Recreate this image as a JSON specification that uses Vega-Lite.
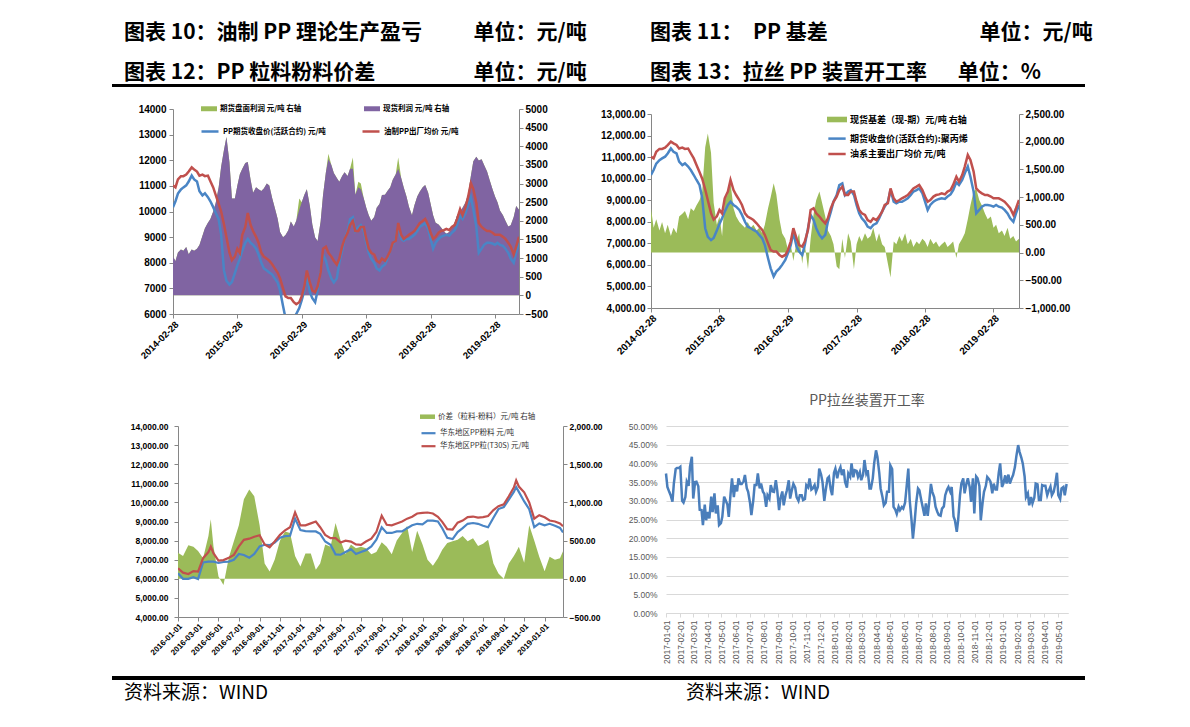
{
"$schema":"https://vega.github.io/schema/vega-lite/v6.json",
"padding":{"left":112,"top":22,"right":0,"bottom":0},
"config":{"view":{"stroke":null},"font":"Liberation Sans"},
"datasets":{
"px":[
{"d":"2014-02-28","fut":10170,"spot":11020,"basis":800,"ps":1040,"pf":1040},
{"d":"2014-03-14","fut":10400,"spot":10940,"basis":450,"ps":920,"pf":920},
{"d":"2014-03-28","fut":10700,"spot":11250,"basis":600,"ps":1150,"pf":1150},
{"d":"2014-04-14","fut":10860,"spot":11380,"basis":400,"ps":1230,"pf":1230},
{"d":"2014-04-28","fut":10940,"spot":11380,"basis":550,"ps":1200,"pf":1200},
{"d":"2014-05-14","fut":11020,"spot":11440,"basis":350,"ps":1300,"pf":1300},
{"d":"2014-05-28","fut":11170,"spot":11560,"basis":500,"ps":1100,"pf":1100},
{"d":"2014-06-14","fut":11400,"spot":11720,"basis":300,"ps":1230,"pf":1230},
{"d":"2014-06-28","fut":11250,"spot":11640,"basis":450,"ps":1200,"pf":1200},
{"d":"2014-07-14","fut":11170,"spot":11560,"basis":350,"ps":1250,"pf":1250},
{"d":"2014-07-28","fut":10790,"spot":11400,"basis":650,"ps":1350,"pf":1350},
{"d":"2014-08-14","fut":10630,"spot":11440,"basis":700,"ps":1600,"pf":1600},
{"d":"2014-08-28","fut":10710,"spot":11380,"basis":750,"ps":1800,"pf":1800},
{"d":"2014-09-14","fut":10560,"spot":11400,"basis":600,"ps":1950,"pf":1950},
{"d":"2014-09-28","fut":10400,"spot":11180,"basis":800,"ps":2050,"pf":2050},
{"d":"2014-10-14","fut":10170,"spot":10940,"basis":750,"ps":2250,"pf":2250},
{"d":"2014-10-28","fut":9950,"spot":10650,"basis":850,"ps":2480,"pf":2480},
{"d":"2014-11-14","fut":9700,"spot":10300,"basis":950,"ps":2900,"pf":2900},
{"d":"2014-11-28","fut":9100,"spot":10000,"basis":1100,"ps":3450,"pf":3450},
{"d":"2014-12-14","fut":7700,"spot":9500,"basis":1900,"ps":3900,"pf":3900},
{"d":"2014-12-28","fut":7300,"spot":9000,"basis":2150,"ps":4250,"pf":4250},
{"d":"2015-01-14","fut":7150,"spot":8400,"basis":1800,"ps":3580,"pf":3580},
{"d":"2015-01-28","fut":7250,"spot":8100,"basis":900,"ps":2600,"pf":2600},
{"d":"2015-02-14","fut":7600,"spot":8250,"basis":500,"ps":2600,"pf":2600},
{"d":"2015-02-28","fut":7900,"spot":8550,"basis":650,"ps":2950,"pf":2950},
{"d":"2015-03-14","fut":8160,"spot":8390,"basis":300,"ps":3250,"pf":3250},
{"d":"2015-03-28","fut":8470,"spot":9090,"basis":950,"ps":3400,"pf":3400},
{"d":"2015-04-14","fut":8780,"spot":9400,"basis":1050,"ps":3550,"pf":3550},
{"d":"2015-04-28","fut":8930,"spot":9940,"basis":1250,"ps":3580,"pf":3580},
{"d":"2015-05-14","fut":8780,"spot":9470,"basis":800,"ps":3100,"pf":3100},
{"d":"2015-05-28","fut":8700,"spot":9240,"basis":650,"ps":2750,"pf":2750},
{"d":"2015-06-14","fut":8550,"spot":9010,"basis":550,"ps":2900,"pf":2900},
{"d":"2015-06-28","fut":8320,"spot":8780,"basis":500,"ps":2850,"pf":2850},
{"d":"2015-07-14","fut":8000,"spot":8390,"basis":450,"ps":2800,"pf":2800},
{"d":"2015-07-28","fut":7780,"spot":8240,"basis":550,"ps":2870,"pf":2870},
{"d":"2015-08-14","fut":7700,"spot":8160,"basis":450,"ps":3000,"pf":3000},
{"d":"2015-08-28","fut":7620,"spot":8080,"basis":500,"ps":2950,"pf":2950},
{"d":"2015-09-14","fut":7540,"spot":7930,"basis":400,"ps":2600,"pf":2600},
{"d":"2015-09-28","fut":7390,"spot":7780,"basis":450,"ps":2350,"pf":2350},
{"d":"2015-10-14","fut":7230,"spot":7620,"basis":350,"ps":2060,"pf":2060},
{"d":"2015-10-28","fut":6920,"spot":7390,"basis":500,"ps":1700,"pf":1700},
{"d":"2015-11-14","fut":6310,"spot":7000,"basis":800,"ps":1560,"pf":1560},
{"d":"2015-11-28","fut":5840,"spot":6690,"basis":1000,"ps":1620,"pf":1620},
{"d":"2015-12-14","fut":5460,"spot":6620,"basis":1250,"ps":1750,"pf":1750},
{"d":"2015-12-28","fut":5690,"spot":6620,"basis":1050,"ps":1980,"pf":1980},
{"d":"2016-01-14","fut":5840,"spot":6460,"basis":600,"ps":1850,"pf":1850},
{"d":"2016-01-28","fut":6000,"spot":6380,"basis":350,"ps":2000,"pf":2000},
{"d":"2016-02-14","fut":6230,"spot":6460,"basis":250,"ps":2300,"pf":2600},
{"d":"2016-02-28","fut":6540,"spot":6690,"basis":50,"ps":2500,"pf":2500},
{"d":"2016-03-14","fut":6920,"spot":7080,"basis":150,"ps":2700,"pf":2700},
{"d":"2016-03-28","fut":7500,"spot":7700,"basis":-150,"ps":2850,"pf":2850},
{"d":"2016-04-14","fut":6850,"spot":7230,"basis":200,"ps":2400,"pf":2400},
{"d":"2016-04-28","fut":6620,"spot":6920,"basis":350,"ps":1900,"pf":1900},
{"d":"2016-05-14","fut":6460,"spot":6850,"basis":-200,"ps":1550,"pf":1550},
{"d":"2016-05-28","fut":6920,"spot":7080,"basis":150,"ps":1460,"pf":1460},
{"d":"2016-06-14","fut":7700,"spot":7620,"basis":-300,"ps":1975,"pf":1975},
{"d":"2016-06-28","fut":8320,"spot":8550,"basis":250,"ps":2700,"pf":2700},
{"d":"2016-07-14","fut":8080,"spot":8630,"basis":700,"ps":3300,"pf":3300},
{"d":"2016-07-28","fut":7700,"spot":8390,"basis":950,"ps":3650,"pf":3800},
{"d":"2016-08-14","fut":7390,"spot":8240,"basis":1100,"ps":3500,"pf":3500},
{"d":"2016-08-28","fut":7230,"spot":8080,"basis":900,"ps":3280,"pf":3280},
{"d":"2016-09-14","fut":7390,"spot":7930,"basis":650,"ps":3150,"pf":3150},
{"d":"2016-09-28","fut":8000,"spot":8160,"basis":400,"ps":3050,"pf":3050},
{"d":"2016-10-14","fut":8470,"spot":8630,"basis":300,"ps":3200,"pf":3200},
{"d":"2016-10-28","fut":8930,"spot":8930,"basis":150,"ps":3300,"pf":3300},
{"d":"2016-11-14","fut":9240,"spot":9170,"basis":-250,"ps":3200,"pf":3200},
{"d":"2016-11-28","fut":9700,"spot":9470,"basis":-300,"ps":3400,"pf":3400},
{"d":"2016-12-14","fut":9780,"spot":9630,"basis":250,"ps":3400,"pf":3700},
{"d":"2016-12-28","fut":9240,"spot":9240,"basis":-100,"ps":2700,"pf":2700},
{"d":"2017-01-14","fut":9400,"spot":9240,"basis":350,"ps":2900,"pf":3050},
{"d":"2017-01-28","fut":9470,"spot":9400,"basis":200,"ps":2850,"pf":3000},
{"d":"2017-02-14","fut":9240,"spot":9400,"basis":-300,"ps":2600,"pf":2600},
{"d":"2017-02-28","fut":8780,"spot":8930,"basis":150,"ps":2350,"pf":2350},
{"d":"2017-03-14","fut":8390,"spot":8550,"basis":300,"ps":2150,"pf":2150},
{"d":"2017-03-28","fut":8160,"spot":8390,"basis":200,"ps":2000,"pf":2000},
{"d":"2017-04-14","fut":8000,"spot":8320,"basis":350,"ps":2100,"pf":2100},
{"d":"2017-04-28","fut":7780,"spot":8080,"basis":250,"ps":2350,"pf":2350},
{"d":"2017-05-14","fut":7700,"spot":8000,"basis":300,"ps":2450,"pf":2450},
{"d":"2017-05-28","fut":7850,"spot":8160,"basis":450,"ps":2690,"pf":2690},
{"d":"2017-06-14","fut":7930,"spot":8080,"basis":200,"ps":2700,"pf":2700},
{"d":"2017-06-28","fut":8160,"spot":8240,"basis":350,"ps":2800,"pf":2800},
{"d":"2017-07-14","fut":8470,"spot":8470,"basis":150,"ps":2900,"pf":2900},
{"d":"2017-07-28","fut":8700,"spot":8780,"basis":100,"ps":3100,"pf":3100},
{"d":"2017-08-14","fut":8930,"spot":8860,"basis":-200,"ps":3250,"pf":3250},
{"d":"2017-08-28","fut":9480,"spot":9550,"basis":-450,"ps":3400,"pf":3700},
{"d":"2017-09-14","fut":8930,"spot":9090,"basis":200,"ps":3150,"pf":3150},
{"d":"2017-09-28","fut":8860,"spot":8930,"basis":150,"ps":2900,"pf":2900},
{"d":"2017-10-14","fut":8930,"spot":9010,"basis":300,"ps":2650,"pf":2650},
{"d":"2017-10-28","fut":8930,"spot":9090,"basis":200,"ps":2380,"pf":2380},
{"d":"2017-11-14","fut":9010,"spot":9170,"basis":350,"ps":2150,"pf":2150},
{"d":"2017-11-28","fut":9090,"spot":9240,"basis":150,"ps":2420,"pf":2420},
{"d":"2017-12-14","fut":9240,"spot":9400,"basis":250,"ps":2650,"pf":2650},
{"d":"2017-12-28","fut":9400,"spot":9550,"basis":100,"ps":2780,"pf":2780},
{"d":"2018-01-14","fut":9470,"spot":9630,"basis":200,"ps":2900,"pf":2900},
{"d":"2018-01-28","fut":9550,"spot":9710,"basis":150,"ps":2960,"pf":2960},
{"d":"2018-02-14","fut":9320,"spot":9470,"basis":250,"ps":2750,"pf":2750},
{"d":"2018-02-28","fut":8930,"spot":9170,"basis":200,"ps":2450,"pf":2450},
{"d":"2018-03-14","fut":8550,"spot":8930,"basis":100,"ps":2150,"pf":2150},
{"d":"2018-03-28","fut":8780,"spot":9010,"basis":250,"ps":1950,"pf":1950},
{"d":"2018-04-14","fut":8930,"spot":9170,"basis":150,"ps":1900,"pf":1900},
{"d":"2018-04-28","fut":9010,"spot":9240,"basis":200,"ps":1820,"pf":1820},
{"d":"2018-05-14","fut":9060,"spot":9270,"basis":100,"ps":1720,"pf":1720},
{"d":"2018-05-28","fut":9090,"spot":9320,"basis":150,"ps":1650,"pf":1650},
{"d":"2018-06-14","fut":9060,"spot":9270,"basis":200,"ps":1700,"pf":1700},
{"d":"2018-06-28","fut":9170,"spot":9400,"basis":100,"ps":1800,"pf":1800},
{"d":"2018-07-14","fut":9270,"spot":9470,"basis":150,"ps":1950,"pf":1950},
{"d":"2018-07-28","fut":9470,"spot":9710,"basis":200,"ps":2150,"pf":2150},
{"d":"2018-08-14","fut":9830,"spot":10090,"basis":-100,"ps":2250,"pf":2250},
{"d":"2018-08-28","fut":9710,"spot":9860,"basis":150,"ps":2350,"pf":2350},
{"d":"2018-09-14","fut":9940,"spot":10170,"basis":250,"ps":2500,"pf":2500},
{"d":"2018-09-28","fut":10250,"spot":10560,"basis":350,"ps":2700,"pf":2700},
{"d":"2018-10-14","fut":10560,"spot":11100,"basis":600,"ps":3200,"pf":3200},
{"d":"2018-10-28","fut":10090,"spot":10870,"basis":850,"ps":3600,"pf":3600},
{"d":"2018-11-14","fut":9400,"spot":10330,"basis":1100,"ps":3720,"pf":3720},
{"d":"2018-11-28","fut":8390,"spot":9550,"basis":1150,"ps":3620,"pf":3620},
{"d":"2018-12-14","fut":8550,"spot":9400,"basis":950,"ps":3650,"pf":3650},
{"d":"2018-12-28","fut":8700,"spot":9320,"basis":850,"ps":3500,"pf":3500},
{"d":"2019-01-14","fut":8780,"spot":9240,"basis":700,"ps":3320,"pf":3320},
{"d":"2019-01-28","fut":8780,"spot":9240,"basis":600,"ps":3100,"pf":3100},
{"d":"2019-02-14","fut":8750,"spot":9170,"basis":650,"ps":2850,"pf":2850},
{"d":"2019-02-28","fut":8700,"spot":9090,"basis":450,"ps":2650,"pf":2650},
{"d":"2019-03-14","fut":8780,"spot":9090,"basis":500,"ps":2500,"pf":2500},
{"d":"2019-03-28","fut":8700,"spot":9090,"basis":350,"ps":2280,"pf":2280},
{"d":"2019-04-14","fut":8660,"spot":9010,"basis":400,"ps":2150,"pf":2150},
{"d":"2019-04-28","fut":8550,"spot":8930,"basis":300,"ps":2000,"pf":2000},
{"d":"2019-05-14","fut":8390,"spot":8780,"basis":450,"ps":1850,"pf":1850},
{"d":"2019-05-28","fut":8160,"spot":8630,"basis":250,"ps":1880,"pf":1880},
{"d":"2019-06-14","fut":8000,"spot":8320,"basis":300,"ps":2100,"pf":2100},
{"d":"2019-06-28","fut":8390,"spot":8630,"basis":200,"ps":2400,"pf":2400},
{"d":"2019-07-14","fut":8780,"spot":9010,"basis":250,"ps":2300,"pf":2300}
],
"c3":[
{"d":"2016-01-01","pw":6290,"gr":6550,"df":340},
{"d":"2016-01-16","pw":6000,"gr":6320,"df":300},
{"d":"2016-02-01","pw":6000,"gr":6250,"df":440},
{"d":"2016-02-16","pw":6080,"gr":6400,"df":420},
{"d":"2016-03-01","pw":5990,"gr":6380,"df":365},
{"d":"2016-03-16","pw":6860,"gr":7080,"df":270},
{"d":"2016-04-01","pw":6900,"gr":7400,"df":560},
{"d":"2016-04-08","pw":6900,"gr":7690,"df":780},
{"d":"2016-04-16","pw":6900,"gr":7340,"df":425},
{"d":"2016-05-01","pw":6830,"gr":6950,"df":30},
{"d":"2016-05-16","pw":6880,"gr":6980,"df":-80},
{"d":"2016-06-01","pw":6900,"gr":7100,"df":280},
{"d":"2016-06-16","pw":7000,"gr":7250,"df":490},
{"d":"2016-07-01","pw":7300,"gr":7700,"df":700},
{"d":"2016-07-16","pw":7250,"gr":8040,"df":1040},
{"d":"2016-08-01","pw":7100,"gr":8100,"df":1170},
{"d":"2016-08-16","pw":7300,"gr":8200,"df":1080},
{"d":"2016-09-01","pw":7700,"gr":8280,"df":700},
{"d":"2016-09-16","pw":7780,"gr":7800,"df":200},
{"d":"2016-10-01","pw":7760,"gr":7650,"df":96},
{"d":"2016-10-16","pw":7900,"gr":7950,"df":250},
{"d":"2016-11-01","pw":8150,"gr":8300,"df":500},
{"d":"2016-11-16","pw":8230,"gr":8540,"df":620},
{"d":"2016-12-01","pw":8250,"gr":8700,"df":600},
{"d":"2016-12-16","pw":9150,"gr":9480,"df":300},
{"d":"2017-01-01","pw":8550,"gr":8800,"df":160},
{"d":"2017-01-16","pw":8500,"gr":8800,"df":330},
{"d":"2017-02-01","pw":8480,"gr":8900,"df":330},
{"d":"2017-02-16","pw":8480,"gr":9000,"df":120},
{"d":"2017-03-01","pw":8350,"gr":8700,"df":200},
{"d":"2017-03-16","pw":7950,"gr":8300,"df":450},
{"d":"2017-04-01","pw":7780,"gr":8130,"df":420},
{"d":"2017-04-16","pw":7280,"gr":8130,"df":730},
{"d":"2017-05-01","pw":7260,"gr":7900,"df":500},
{"d":"2017-05-16","pw":7400,"gr":8000,"df":320},
{"d":"2017-06-01","pw":7550,"gr":7950,"df":450},
{"d":"2017-06-16","pw":7300,"gr":7800,"df":400},
{"d":"2017-07-01","pw":7400,"gr":7780,"df":420},
{"d":"2017-07-16","pw":7500,"gr":7950,"df":400},
{"d":"2017-08-01","pw":7700,"gr":8100,"df":320},
{"d":"2017-08-16","pw":8050,"gr":8450,"df":350},
{"d":"2017-09-01","pw":8700,"gr":9300,"df":480},
{"d":"2017-09-16","pw":8400,"gr":8830,"df":420},
{"d":"2017-10-01","pw":8400,"gr":8800,"df":320},
{"d":"2017-10-16","pw":8480,"gr":8900,"df":500},
{"d":"2017-11-01","pw":8480,"gr":9000,"df":600},
{"d":"2017-11-16","pw":8650,"gr":9150,"df":690},
{"d":"2017-12-01","pw":8800,"gr":9250,"df":350},
{"d":"2017-12-16","pw":8880,"gr":9420,"df":630},
{"d":"2018-01-01","pw":8850,"gr":9450,"df":450},
{"d":"2018-01-16","pw":9050,"gr":9470,"df":250},
{"d":"2018-02-01","pw":9050,"gr":9420,"df":170},
{"d":"2018-02-16","pw":9000,"gr":9250,"df":270},
{"d":"2018-03-01","pw":8650,"gr":8980,"df":380},
{"d":"2018-03-16","pw":8150,"gr":8600,"df":470},
{"d":"2018-04-01","pw":8080,"gr":8580,"df":490},
{"d":"2018-04-16","pw":8450,"gr":8940,"df":510},
{"d":"2018-05-01","pw":8650,"gr":9050,"df":560},
{"d":"2018-05-16","pw":8880,"gr":9230,"df":490},
{"d":"2018-06-01","pw":8920,"gr":9260,"df":530},
{"d":"2018-06-16","pw":8880,"gr":9200,"df":430},
{"d":"2018-07-01","pw":8780,"gr":9230,"df":460},
{"d":"2018-07-16","pw":8700,"gr":9290,"df":510},
{"d":"2018-08-01","pw":9200,"gr":9600,"df":200},
{"d":"2018-08-16","pw":9650,"gr":9800,"df":70},
{"d":"2018-09-01","pw":9760,"gr":9900,"df":0},
{"d":"2018-09-16","pw":10150,"gr":10320,"df":200},
{"d":"2018-10-01","pw":10550,"gr":10780,"df":300},
{"d":"2018-10-08","pw":10800,"gr":11150,"df":350},
{"d":"2018-10-16","pw":10550,"gr":10830,"df":420},
{"d":"2018-11-01","pw":10050,"gr":10530,"df":210},
{"d":"2018-11-16","pw":9640,"gr":10000,"df":700},
{"d":"2018-12-01","pw":8700,"gr":9150,"df":500},
{"d":"2018-12-16","pw":8900,"gr":9330,"df":290},
{"d":"2019-01-01","pw":8800,"gr":9220,"df":100},
{"d":"2019-01-16","pw":8880,"gr":9050,"df":290},
{"d":"2019-02-01","pw":8780,"gr":9000,"df":250},
{"d":"2019-02-16","pw":8660,"gr":8900,"df":270},
{"d":"2019-02-25","pw":8430,"gr":8750,"df":360}
],
"c4":[
{"d":"2017-01-01","v":37.3},{"d":"2017-01-08","v":32.4},{"d":"2017-01-15","v":29.8},{"d":"2017-01-22","v":38.5},{"d":"2017-01-29","v":38.8},
{"d":"2017-02-05","v":30},{"d":"2017-02-12","v":31},{"d":"2017-02-19","v":34},{"d":"2017-02-26","v":41.8},{"d":"2017-03-05","v":35},
{"d":"2017-03-12","v":33.9},{"d":"2017-03-19","v":27.5},{"d":"2017-03-26","v":29},{"d":"2017-04-02","v":27},{"d":"2017-04-09","v":31.1},
{"d":"2017-04-16","v":32},{"d":"2017-04-23","v":28.8},{"d":"2017-04-30","v":24},{"d":"2017-05-07","v":31.1},{"d":"2017-05-14","v":29},
{"d":"2017-05-21","v":32},{"d":"2017-05-28","v":31},{"d":"2017-06-04","v":32.5},{"d":"2017-06-11","v":34.5},{"d":"2017-06-18","v":35.2},
{"d":"2017-06-25","v":33.4},{"d":"2017-07-02","v":29.5},{"d":"2017-07-09","v":30},{"d":"2017-07-16","v":34.2},{"d":"2017-07-23","v":33.3},
{"d":"2017-07-30","v":32.4},{"d":"2017-08-06","v":28.4},{"d":"2017-08-13","v":30.6},{"d":"2017-08-20","v":32.5},{"d":"2017-08-27","v":35.5},
{"d":"2017-09-03","v":27.5},{"d":"2017-09-10","v":32.5},{"d":"2017-09-17","v":31.5},{"d":"2017-09-24","v":35.5},{"d":"2017-10-01","v":33},
{"d":"2017-10-08","v":33.5},{"d":"2017-10-15","v":30},{"d":"2017-10-22","v":31.5},{"d":"2017-10-29","v":30.5},{"d":"2017-11-05","v":33.6},
{"d":"2017-11-12","v":33},{"d":"2017-11-19","v":34.2},{"d":"2017-11-26","v":33.7},{"d":"2017-12-03","v":37},{"d":"2017-12-10","v":30},
{"d":"2017-12-17","v":36},{"d":"2017-12-24","v":33},{"d":"2017-12-31","v":37.5},{"d":"2018-01-07","v":36},{"d":"2018-01-14","v":39},
{"d":"2018-01-21","v":38.4},{"d":"2018-01-28","v":33.5},{"d":"2018-02-04","v":36.4},{"d":"2018-02-11","v":36.3},{"d":"2018-02-18","v":38},
{"d":"2018-02-25","v":37.7},{"d":"2018-03-04","v":37},{"d":"2018-03-11","v":37.3},{"d":"2018-03-18","v":33.3},{"d":"2018-03-25","v":36},
{"d":"2018-04-01","v":43.5},{"d":"2018-04-08","v":37.5},{"d":"2018-04-15","v":31},{"d":"2018-04-22","v":29.5},{"d":"2018-04-29","v":32.4},
{"d":"2018-05-06","v":38.5},{"d":"2018-05-13","v":27.6},{"d":"2018-05-20","v":28.4},{"d":"2018-05-27","v":28.3},{"d":"2018-06-03","v":29.5},
{"d":"2018-06-10","v":38.6},{"d":"2018-06-17","v":24.8},{"d":"2018-06-24","v":24.8},{"d":"2018-07-01","v":33.3},{"d":"2018-07-08","v":30.2},
{"d":"2018-07-15","v":26},{"d":"2018-07-22","v":26},{"d":"2018-07-29","v":34.5},{"d":"2018-08-05","v":31},{"d":"2018-08-12","v":27},
{"d":"2018-08-19","v":26},{"d":"2018-08-26","v":28.5},{"d":"2018-09-02","v":33},{"d":"2018-09-09","v":32.4},{"d":"2018-09-16","v":25.8},
{"d":"2018-09-23","v":21.7},{"d":"2018-09-30","v":31.5},{"d":"2018-10-07","v":36},{"d":"2018-10-14","v":34.6},{"d":"2018-10-21","v":33.7},
{"d":"2018-10-28","v":36},{"d":"2018-11-04","v":36.5},{"d":"2018-11-11","v":34},{"d":"2018-11-18","v":29.5},{"d":"2018-11-25","v":34},
{"d":"2018-12-02","v":35.8},{"d":"2018-12-09","v":32},{"d":"2018-12-16","v":33},{"d":"2018-12-23","v":37.5},{"d":"2018-12-30","v":33.7},
{"d":"2019-01-06","v":36.8},{"d":"2019-01-13","v":37},{"d":"2019-01-20","v":36},{"d":"2019-01-27","v":39},{"d":"2019-02-03","v":44.9},
{"d":"2019-02-10","v":41.5},{"d":"2019-02-17","v":36.5},{"d":"2019-02-24","v":32},{"d":"2019-03-03","v":31},{"d":"2019-03-10","v":30.8},
{"d":"2019-03-17","v":34.4},{"d":"2019-03-24","v":30.2},{"d":"2019-03-31","v":34},{"d":"2019-04-07","v":31.5},{"d":"2019-04-14","v":33.8},
{"d":"2019-04-21","v":32.4},{"d":"2019-04-28","v":37.5},{"d":"2019-05-05","v":30.5},{"d":"2019-05-12","v":33.7},{"d":"2019-05-19","v":34.5},
{"d":"2017-01-04","v":33.7},{"d":"2017-01-11","v":31.5},{"d":"2017-01-18","v":34.6},{"d":"2017-01-25","v":38.8},{"d":"2017-02-01","v":39.1},
{"d":"2017-02-08","v":29.5},{"d":"2017-02-15","v":35.1},{"d":"2017-02-22","v":39.1},{"d":"2017-03-01","v":30.6},{"d":"2017-03-08","v":35.1},
{"d":"2017-03-15","v":27.6},{"d":"2017-03-22","v":23.5},{"d":"2017-03-29","v":24.8},{"d":"2017-04-05","v":25.3},{"d":"2017-04-12","v":27},
{"d":"2017-04-19","v":26.6},{"d":"2017-04-26","v":23.5},{"d":"2017-05-03","v":25.7},{"d":"2017-05-10","v":30.2},{"d":"2017-05-17","v":25.7},
{"d":"2017-05-24","v":36},{"d":"2017-05-31","v":34.2},{"d":"2017-06-07","v":36},{"d":"2017-06-14","v":34.5},{"d":"2017-06-21","v":36.9},
{"d":"2017-06-28","v":32.4},{"d":"2017-07-05","v":26.2},{"d":"2017-07-12","v":34.2},{"d":"2017-07-19","v":37.3},{"d":"2017-07-26","v":34.6},
{"d":"2017-08-02","v":31.9},{"d":"2017-08-09","v":31.5},{"d":"2017-08-16","v":34.2},{"d":"2017-08-23","v":32.4},{"d":"2017-08-30","v":32.8},
{"d":"2017-09-06","v":30.6},{"d":"2017-09-13","v":28.8},{"d":"2017-09-20","v":32.8},{"d":"2017-09-27","v":30.6},{"d":"2017-10-04","v":34.5},
{"d":"2017-10-11","v":31},{"d":"2017-10-18","v":31.5},{"d":"2017-10-25","v":30.2},{"d":"2017-11-01","v":34.2},{"d":"2017-11-08","v":36},
{"d":"2017-11-15","v":33.3},{"d":"2017-11-22","v":32.4},{"d":"2017-11-29","v":38.6},{"d":"2017-12-06","v":35.1},{"d":"2017-12-13","v":32.8},
{"d":"2017-12-20","v":36.4},{"d":"2017-12-27","v":31.5},{"d":"2018-01-03","v":38.6},{"d":"2018-01-10","v":37.8},{"d":"2018-01-17","v":36.9},
{"d":"2018-01-24","v":35},{"d":"2018-01-31","v":37.3},{"d":"2018-02-07","v":40},{"d":"2018-02-14","v":38.2},{"d":"2018-02-21","v":36.4},
{"d":"2018-02-28","v":35.5},{"d":"2018-03-07","v":40.9},{"d":"2018-03-14","v":38.2},{"d":"2018-03-21","v":33.3},{"d":"2018-03-28","v":40},
{"d":"2018-04-04","v":41.8},{"d":"2018-04-11","v":33.3},{"d":"2018-04-18","v":28.8},{"d":"2018-04-25","v":32.4},{"d":"2018-05-02","v":39.5},
{"d":"2018-05-09","v":28.4},{"d":"2018-05-16","v":26.5},{"d":"2018-05-23","v":27.5},{"d":"2018-05-30","v":27.9},{"d":"2018-06-06","v":33.3},
{"d":"2018-06-13","v":30.2},{"d":"2018-06-20","v":19.9},{"d":"2018-06-27","v":29.3},{"d":"2018-07-04","v":32.8},{"d":"2018-07-11","v":28.4},
{"d":"2018-07-18","v":29.3},{"d":"2018-07-25","v":29.3},{"d":"2018-08-01","v":32.4},{"d":"2018-08-08","v":28.4},{"d":"2018-08-15","v":26.2},
{"d":"2018-08-22","v":27.9},{"d":"2018-08-29","v":31.5},{"d":"2018-09-05","v":33.7},{"d":"2018-09-12","v":33.7},{"d":"2018-09-19","v":24.8},
{"d":"2018-09-26","v":24.8},{"d":"2018-10-03","v":34.6},{"d":"2018-10-10","v":32},{"d":"2018-10-17","v":36},{"d":"2018-10-24","v":29.7},
{"d":"2018-10-31","v":26.6},{"d":"2018-11-07","v":36},{"d":"2018-11-14","v":24.8},{"d":"2018-11-21","v":32.4},{"d":"2018-11-28","v":36.4},
{"d":"2018-12-05","v":35.1},{"d":"2018-12-12","v":34.6},{"d":"2018-12-19","v":33},{"d":"2018-12-26","v":40},{"d":"2019-01-02","v":34.6},
{"d":"2019-01-09","v":34.6},{"d":"2019-01-16","v":34.6},{"d":"2019-01-23","v":36.9},{"d":"2019-01-30","v":41.8},{"d":"2019-02-06","v":43.1},
{"d":"2019-02-13","v":40},{"d":"2019-02-20","v":31},{"d":"2019-02-27","v":28.8},{"d":"2019-03-06","v":29.3},{"d":"2019-03-13","v":34.6},
{"d":"2019-03-20","v":30.2},{"d":"2019-03-27","v":34.2},{"d":"2019-04-03","v":34},{"d":"2019-04-10","v":32.6},{"d":"2019-04-17","v":31.5},
{"d":"2019-04-24","v":34.2},{"d":"2019-05-01","v":31.5},{"d":"2019-05-08","v":33.3},{"d":"2019-05-15","v":31.5}
]
},
"vconcat":[
{"width":550,"height":62,
 "data":{"values":[
  {"r":1,"c":"L","t":"图表 10：油制 PP 理论生产盈亏\u3000\u3000\u00a0\u00a0单位：元/吨"},
  {"r":1,"c":"R","t":"图表 11：\u3000PP 基差\u3000\u3000\u3000\u3000\u3000\u3000\u3000\u00a0单位：元/吨"},
  {"r":2,"c":"L","t":"图表 12：PP 粒料粉料价差\u3000\u3000\u3000\u3000\u00a0\u00a0\u00a0单位：元/吨"},
  {"r":2,"c":"R","t":"\u00a0图表 13：拉丝 PP 装置开工率\u3000\u00a0\u00a0单位：%"}]},
 "mark":{"type":"text","align":"left","baseline":"middle","font":"Noto Sans CJK SC","fontSize":21,"fontWeight":"bold","color":"#000"},
 "encoding":{
  "x":{"field":"c","type":"nominal","scale":{"type":"point","domain":["L","R"],"padding":0.0228},"axis":null},
  "y":{"field":"r","type":"ordinal","scale":{"type":"point","padding":0.275},"axis":null},
  "text":{"field":"t"}}},
{"width":973,"height":3,"data":{"values":[]},"mark":"text","encoding":{},"view":{"fill":"#000","stroke":null}},
{"width":973,"height":22,"data":{"values":[]},"mark":"text","encoding":{}},
{"hconcat":[
 {"width":61,"height":1,"data":{"values":[]},"mark":"text","encoding":{}},
 {"width":346,"height":205,
  "data":{"name":"px"},
  "encoding":{"x":{"field":"d","type":"temporal",
    "scale":{"type":"utc","domain":[{"year":2014,"month":2,"date":28,"utc":true},{"year":2019,"month":7,"date":14,"utc":true}]},
    "axis":{"values":[{"year":2014,"month":2,"date":28,"utc":true},{"year":2015,"month":2,"date":28,"utc":true},{"year":2016,"month":2,"date":29,"utc":true},{"year":2017,"month":2,"date":28,"utc":true},{"year":2018,"month":2,"date":28,"utc":true},{"year":2019,"month":2,"date":28,"utc":true}],
     "format":"%Y-%m-%d","labelAngle":-45,"labelAlign":"right","labelBaseline":"top","labelFont":"Liberation Sans","labelFontWeight":"bold","labelFontSize":9.5,"labelColor":"#000","domainColor":"#868686","tickColor":"#868686","tickSize":4,"labelOverlap":false,"labelFlush":false,"labelPadding":1,"title":null,"grid":false}}},
  "layer":[
   {"layer":[
     {"mark":{"type":"area","opacity":1,"clip":true},
      "encoding":{"y":{"field":"pf","type":"quantitative","stack":null,"scale":{"domain":[-500,5000],"nice":false},
        "axis":{"orient":"right","values":[-500,0,500,1000,1500,2000,2500,3000,3500,4000,4500,5000],"format":"d","labelOverlap":false,"labelFont":"Liberation Sans","labelFontWeight":"bold","labelFontSize":10,"labelColor":"#000","domainColor":"#868686","tickColor":"#868686","tickSize":4,"labelPadding":2,"title":null,"grid":false}},
       "fill":{"datum":"期货盘面利润 元/吨 右轴","type":"nominal","scale":{"domain":["期货盘面利润 元/吨 右轴","现货利润 元/吨 右轴"],"range":["#9BBB59","#8064A2"]},
        "legend":{"title":null,"orient":"none","legendX":28,"legendY":-8.5,"direction":"horizontal","padding":0,"symbolType":"M-1,-0.31H1V0.31H-1Z","symbolSize":256,"symbolStrokeWidth":0,"labelFont":"Noto Sans CJK SC","labelFontSize":7.5,"labelFontWeight":"bold","labelColor":"#000","labelOffset":3,"columnPadding":62}}}},
     {"mark":{"type":"area","opacity":1,"clip":true},
      "encoding":{"y":{"field":"ps","type":"quantitative","stack":null,"scale":{"domain":[-500,5000],"nice":false},
        "axis":{"orient":"right","values":[-500,0,500,1000,1500,2000,2500,3000,3500,4000,4500,5000],"format":"d","labelOverlap":false,"labelFont":"Liberation Sans","labelFontWeight":"bold","labelFontSize":10,"labelColor":"#000","domainColor":"#868686","tickColor":"#868686","tickSize":4,"labelPadding":2,"title":null,"grid":false}},
       "fill":{"datum":"现货利润 元/吨 右轴","type":"nominal"}}}
   ]},
   {"layer":[
     {"mark":{"type":"line","clip":true,"strokeWidth":2.5},
      "encoding":{"y":{"field":"fut","type":"quantitative","scale":{"domain":[6000,14000],"nice":false},
        "axis":{"orient":"left","values":[6000,7000,8000,9000,10000,11000,12000,13000,14000],"format":"d","labelOverlap":false,"labelFont":"Liberation Sans","labelFontWeight":"bold","labelFontSize":10,"labelColor":"#000","domainColor":"#868686","tickColor":"#868686","tickSize":4,"labelPadding":3,"title":null,"grid":false}},
       "stroke":{"datum":"PP期货收盘价(活跃合约) 元/吨","type":"nominal","scale":{"domain":["PP期货收盘价(活跃合约) 元/吨","油制PP出厂均价 元/吨"],"range":["#4A85C5","#C0504D"]},
        "legend":{"title":null,"orient":"none","legendX":27,"legendY":12.5,"direction":"horizontal","padding":0,"symbolType":"stroke","symbolSize":289,"symbolStrokeWidth":2.5,"labelFont":"Noto Sans CJK SC","labelFontSize":7.5,"labelFontWeight":"bold","labelColor":"#000","labelOffset":3,"columnPadding":31}}}},
     {"mark":{"type":"line","clip":true,"strokeWidth":2.5},
      "encoding":{"y":{"field":"spot","type":"quantitative","scale":{"domain":[6000,14000],"nice":false},
        "axis":{"orient":"left","values":[6000,7000,8000,9000,10000,11000,12000,13000,14000],"format":"d","labelOverlap":false,"labelFont":"Liberation Sans","labelFontWeight":"bold","labelFontSize":10,"labelColor":"#000","domainColor":"#868686","tickColor":"#868686","tickSize":4,"labelPadding":3,"title":null,"grid":false}},
       "stroke":{"datum":"油制PP出厂均价 元/吨","type":"nominal"}}}
   ]}
  ],
  "resolve":{"scale":{"y":"independent"}}},
 {"width":132,"height":1,"data":{"values":[]},"mark":"text","encoding":{}},
 {"vconcat":[
  {"width":1,"height":5,"data":{"values":[]},"mark":"text","encoding":{}},
  {"width":368,"height":194,
   "data":{"name":"px"},
   "encoding":{"x":{"field":"d","type":"temporal",
     "scale":{"type":"utc","domain":[{"year":2014,"month":2,"date":28,"utc":true},{"year":2019,"month":7,"date":14,"utc":true}]},
     "axis":{"values":[{"year":2014,"month":2,"date":28,"utc":true},{"year":2015,"month":2,"date":28,"utc":true},{"year":2016,"month":2,"date":29,"utc":true},{"year":2017,"month":2,"date":28,"utc":true},{"year":2018,"month":2,"date":28,"utc":true},{"year":2019,"month":2,"date":28,"utc":true}],
      "format":"%Y-%m-%d","labelAngle":-45,"labelAlign":"right","labelBaseline":"top","labelFont":"Liberation Sans","labelFontWeight":"bold","labelFontSize":10,"labelColor":"#000","domainColor":"#868686","tickColor":"#868686","tickSize":4,"labelOverlap":false,"labelFlush":false,"labelPadding":1,"title":null,"grid":false}}},
   "layer":[
    {"mark":{"type":"area","opacity":1,"clip":true},
     "encoding":{"y":{"field":"basis","type":"quantitative","stack":null,"scale":{"domain":[-1000,2500],"nice":false},
       "axis":{"orient":"right","values":[-1000,-500,0,500,1000,1500,2000,2500],"format":",.2f","labelOverlap":false,"labelFont":"Liberation Sans","labelFontWeight":"bold","labelFontSize":10,"labelColor":"#000","domainColor":"#868686","tickColor":"#868686","tickSize":4,"labelPadding":2,"title":null,"grid":false}},
      "fill":{"datum":"现货基差（现-期）元/吨 右轴","type":"nominal","scale":{"domain":["现货基差（现-期）元/吨 右轴"],"range":["#9BBB59"]},
       "legend":{"title":null,"orient":"none","legendX":176,"legendY":-4.5,"direction":"vertical","padding":0,"symbolType":"M-1,-0.28H1V0.28H-1Z","symbolSize":400,"symbolStrokeWidth":0,"labelFont":"Noto Sans CJK SC","labelFontSize":9,"labelFontWeight":"bold","labelColor":"#000","labelOffset":3}}}},
    {"layer":[
      {"mark":{"type":"line","clip":true,"strokeWidth":2.5},
       "encoding":{"y":{"field":"fut","type":"quantitative","scale":{"domain":[4000,13000],"nice":false},
         "axis":{"orient":"left","values":[4000,5000,6000,7000,8000,9000,10000,11000,12000,13000],"format":",.2f","labelOverlap":false,"labelFont":"Liberation Sans","labelFontWeight":"bold","labelFontSize":10,"labelColor":"#000","domainColor":"#868686","tickColor":"#868686","tickSize":4,"labelPadding":2,"title":null,"grid":false}},
        "stroke":{"datum":"期货收盘价(活跃合约):聚丙烯","type":"nominal","scale":{"domain":["期货收盘价(活跃合约):聚丙烯","油系主要出厂均价 元/吨"],"range":["#4A85C5","#C0504D"]},
         "legend":{"title":null,"orient":"none","legendX":176,"legendY":14.6,"direction":"vertical","padding":0,"rowPadding":0.4,"symbolType":"stroke","symbolSize":300,"symbolStrokeWidth":2.5,"labelFont":"Noto Sans CJK SC","labelFontSize":9,"labelFontWeight":"bold","labelColor":"#000","labelOffset":3}}}},
      {"mark":{"type":"line","clip":true,"strokeWidth":2.5},
       "encoding":{"y":{"field":"spot","type":"quantitative","scale":{"domain":[4000,13000],"nice":false},
         "axis":{"orient":"left","values":[4000,5000,6000,7000,8000,9000,10000,11000,12000,13000],"format":",.2f","labelOverlap":false,"labelFont":"Liberation Sans","labelFontWeight":"bold","labelFontSize":10,"labelColor":"#000","domainColor":"#868686","tickColor":"#868686","tickSize":4,"labelPadding":2,"title":null,"grid":false}},
        "stroke":{"datum":"油系主要出厂均价 元/吨","type":"nominal"}}}
    ]}
   ],
   "resolve":{"scale":{"y":"independent"}}}
 ],"spacing":0,"bounds":"flush","resolve":{"scale":{"fill":"independent","stroke":"independent"},"legend":{"fill":"independent","stroke":"independent"}}}
],"spacing":0,"bounds":"flush","resolve":{"scale":{"fill":"independent","stroke":"independent"},"legend":{"fill":"independent","stroke":"independent"}}},
{"width":973,"height":317,"data":{"values":[]},"mark":"text","encoding":{}},
{"hconcat":[
 {"width":66,"height":1,"data":{"values":[]},"mark":"text","encoding":{}},
 {"width":385,"height":191,
  "data":{"name":"c3"},
  "encoding":{"x":{"field":"d","type":"temporal",
    "scale":{"type":"utc","domain":[{"year":2016,"month":1,"date":1,"utc":true},{"year":2019,"month":2,"date":25,"utc":true}]},
    "axis":{"values":[{"year":2016,"month":1,"date":1,"utc":true},{"year":2016,"month":3,"date":1,"utc":true},{"year":2016,"month":5,"date":1,"utc":true},{"year":2016,"month":7,"date":1,"utc":true},{"year":2016,"month":9,"date":1,"utc":true},{"year":2016,"month":11,"date":1,"utc":true},{"year":2017,"month":1,"date":1,"utc":true},{"year":2017,"month":3,"date":1,"utc":true},{"year":2017,"month":5,"date":1,"utc":true},{"year":2017,"month":7,"date":1,"utc":true},{"year":2017,"month":9,"date":1,"utc":true},{"year":2017,"month":11,"date":1,"utc":true},{"year":2018,"month":1,"date":1,"utc":true},{"year":2018,"month":3,"date":1,"utc":true},{"year":2018,"month":5,"date":1,"utc":true},{"year":2018,"month":7,"date":1,"utc":true},{"year":2018,"month":9,"date":1,"utc":true},{"year":2018,"month":11,"date":1,"utc":true},{"year":2019,"month":1,"date":1,"utc":true}],
     "format":"%Y-%m-%d","labelAngle":-45,"labelAlign":"right","labelBaseline":"top","labelFont":"Liberation Sans","labelFontWeight":"bold","labelFontSize":8,"labelColor":"#000","domainColor":"#868686","tickColor":"#868686","tickSize":4,"labelOverlap":false,"labelFlush":false,"labelPadding":1,"title":null,"grid":false}}},
  "layer":[
   {"mark":{"type":"area","opacity":1,"clip":true},
    "encoding":{"y":{"field":"df","type":"quantitative","stack":null,"scale":{"domain":[-500,2000],"nice":false},
      "axis":{"orient":"right","values":[-500,0,500,1000,1500,2000],"format":",.2f","labelOverlap":false,"labelFont":"Liberation Sans","labelFontWeight":"bold","labelFontSize":8.5,"labelColor":"#000","domainColor":"#868686","tickColor":"#868686","tickSize":4,"labelPadding":2,"title":null,"grid":false}},
     "fill":{"datum":"价差（粒料-粉料）元/吨 右轴","type":"nominal","scale":{"domain":["价差（粒料-粉料）元/吨 右轴"],"range":["#9BBB59"]},
      "legend":{"title":null,"orient":"none","legendX":242,"legendY":-16.8,"direction":"vertical","padding":0,"symbolType":"M-1,-0.3H1V0.3H-1Z","symbolSize":225,"symbolStrokeWidth":0,"labelFont":"Noto Sans CJK SC","labelFontSize":7.5,"labelColor":"#333","labelOffset":3}}}},
   {"layer":[
     {"mark":{"type":"line","clip":true,"strokeWidth":2.2},
      "encoding":{"y":{"field":"pw","type":"quantitative","scale":{"domain":[4000,14000],"nice":false},
        "axis":{"orient":"left","values":[4000,5000,6000,7000,8000,9000,10000,11000,12000,13000,14000],"format":",.2f","labelOverlap":false,"labelFont":"Liberation Sans","labelFontWeight":"bold","labelFontSize":8.5,"labelColor":"#000","domainColor":"#868686","tickColor":"#868686","tickSize":4,"labelPadding":6,"title":null,"grid":false}},
       "stroke":{"datum":"华东地区PP粉料 元/吨","type":"nominal","scale":{"domain":["华东地区PP粉料 元/吨","华东地区PP粒(T30S) 元/吨"],"range":["#4A85C5","#C0504D"]},
        "legend":{"title":null,"orient":"none","legendX":242,"legendY":-1.3,"direction":"vertical","padding":0,"rowPadding":0,"symbolType":"stroke","symbolSize":196,"symbolStrokeWidth":2.2,"labelFont":"Noto Sans CJK SC","labelFontSize":7.5,"labelColor":"#333","labelOffset":3}}}},
     {"mark":{"type":"line","clip":true,"strokeWidth":2.2},
      "encoding":{"y":{"field":"gr","type":"quantitative","scale":{"domain":[4000,14000],"nice":false},
        "axis":{"orient":"left","values":[4000,5000,6000,7000,8000,9000,10000,11000,12000,13000,14000],"format":",.2f","labelOverlap":false,"labelFont":"Liberation Sans","labelFontWeight":"bold","labelFontSize":8.5,"labelColor":"#000","domainColor":"#868686","tickColor":"#868686","tickSize":4,"labelPadding":6,"title":null,"grid":false}},
       "stroke":{"datum":"华东地区PP粒(T30S) 元/吨","type":"nominal"}}}
   ]}
  ],
  "resolve":{"scale":{"y":"independent"}}},
 {"width":103,"height":1,"data":{"values":[]},"mark":"text","encoding":{}},
 {"width":402,"height":187,
  "data":{"name":"c4"},
  "title":{"text":"PP拉丝装置开工率","font":"Noto Sans CJK SC","fontSize":14,"fontWeight":"normal","color":"#595959","offset":14,"anchor":"middle"},
  "mark":{"type":"line","strokeWidth":2.5,"color":"#4A7EBB"},
  "encoding":{
   "x":{"field":"d","type":"temporal",
    "scale":{"type":"utc","domain":[{"year":2017,"month":1,"date":1,"utc":true},{"year":2019,"month":5,"date":22,"utc":true}]},
    "axis":{"values":[{"year":2017,"month":1,"date":1,"utc":true},{"year":2017,"month":2,"date":1,"utc":true},{"year":2017,"month":3,"date":1,"utc":true},{"year":2017,"month":4,"date":1,"utc":true},{"year":2017,"month":5,"date":1,"utc":true},{"year":2017,"month":6,"date":1,"utc":true},{"year":2017,"month":7,"date":1,"utc":true},{"year":2017,"month":8,"date":1,"utc":true},{"year":2017,"month":9,"date":1,"utc":true},{"year":2017,"month":10,"date":1,"utc":true},{"year":2017,"month":11,"date":1,"utc":true},{"year":2017,"month":12,"date":1,"utc":true},{"year":2018,"month":1,"date":1,"utc":true},{"year":2018,"month":2,"date":1,"utc":true},{"year":2018,"month":3,"date":1,"utc":true},{"year":2018,"month":4,"date":1,"utc":true},{"year":2018,"month":5,"date":1,"utc":true},{"year":2018,"month":6,"date":1,"utc":true},{"year":2018,"month":7,"date":1,"utc":true},{"year":2018,"month":8,"date":1,"utc":true},{"year":2018,"month":9,"date":1,"utc":true},{"year":2018,"month":10,"date":1,"utc":true},{"year":2018,"month":11,"date":1,"utc":true},{"year":2018,"month":12,"date":1,"utc":true},{"year":2019,"month":1,"date":1,"utc":true},{"year":2019,"month":2,"date":1,"utc":true},{"year":2019,"month":3,"date":1,"utc":true},{"year":2019,"month":4,"date":1,"utc":true},{"year":2019,"month":5,"date":1,"utc":true}],
     "format":"%Y-%m-%d","labelAngle":-90,"labelAlign":"right","labelBaseline":"middle","labelFont":"Liberation Sans","labelFontSize":8.5,"labelColor":"#595959","domainColor":"#d9d9d9","tickColor":"#d9d9d9","tickSize":4,"labelOverlap":false,"labelFlush":false,"labelPadding":3,"title":null,"grid":false}},
   "y":{"field":"v","type":"quantitative","scale":{"domain":[0,50],"nice":false},
    "axis":{"values":[0,5,10,15,20,25,30,35,40,45,50],"labelExpr":"format(datum.value,'.2f')+'%'","labelOverlap":false,"labelFont":"Liberation Sans","labelFontSize":8.5,"labelColor":"#595959","domain":false,"ticks":false,"grid":true,"gridColor":"#d9d9d9","gridWidth":1,"labelPadding":9,"title":null}}}}
],"spacing":0,"bounds":"flush","resolve":{"scale":{"fill":"independent","stroke":"independent"},"legend":{"fill":"independent","stroke":"independent"}}},
{"width":973,"height":250,"data":{"values":[]},"mark":"text","encoding":{}},
{"width":973,"height":4,"data":{"values":[]},"mark":"text","encoding":{},"view":{"fill":"#000","stroke":null}},
{"width":586,"height":26,
 "data":{"values":[{"c":"L","t":"资料来源：WIND"},{"c":"R","t":"资料来源：WIND"}]},
 "mark":{"type":"text","align":"left","baseline":"middle","font":"Noto Sans CJK SC","fontSize":19,"color":"#000"},
 "encoding":{"x":{"field":"c","type":"nominal","scale":{"type":"point","domain":["L","R"],"padding":0.02135},"axis":null},"text":{"field":"t"}}}
],
"spacing":0,
"bounds":"flush",
"resolve":{"scale":{"fill":"independent","stroke":"independent"},"legend":{"fill":"independent","stroke":"independent"}}
}
